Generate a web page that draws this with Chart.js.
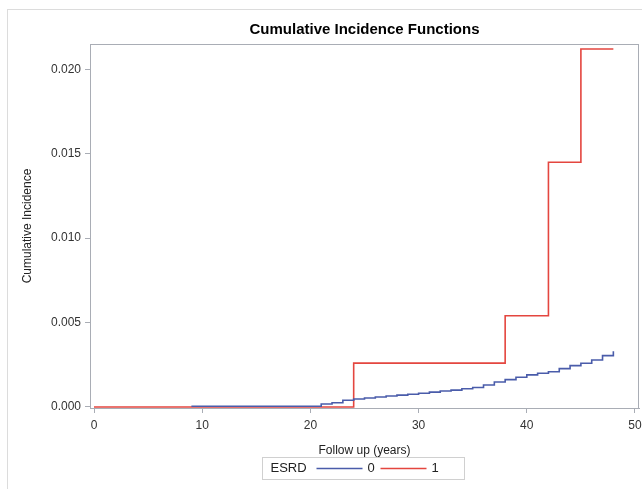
<!DOCTYPE html>
<html>
<head>
<meta charset="utf-8">
<script src="https://cdn.jsdelivr.net/npm/chart.js@4"></script>
<style>
  body { margin: 0; background: #fff; }
  canvas { display: block; }
</style>
</head>
<body>
<canvas id="cif" width="642" height="489"></canvas>
<script>
// step points: value holds from this time onward
const esrd0Time = [9, 21, 22, 23, 24, 25, 26, 27, 28, 29, 30, 31, 32, 33, 34, 35, 36, 37, 38, 39, 40, 41, 42, 43, 44, 45, 46, 47, 48, 48];
const esrd0Cif = [0.00004, 0.00018, 0.00025, 0.0004, 0.00047, 0.00053, 0.00059, 0.00065, 0.0007, 0.00075, 0.00081, 0.00088, 0.00095, 0.001, 0.00108, 0.00115, 0.0013, 0.00148, 0.00162, 0.00176, 0.0019, 0.002, 0.00209, 0.00227, 0.00245, 0.00259, 0.00278, 0.00304, 0.00304, 0.0033];

const esrd1Time = [0, 24, 38, 42, 45, 48];
const esrd1Cif = [0, 0.0026, 0.0054, 0.0145, 0.0212, 0.0212];

const groupLabels = ["0", "1"];
const xTicks = [0, 10, 20, 30, 40, 50];
const yTicks = [0, 0.005, 0.010, 0.015, 0.020];

const toPoints = (xs, ys) => xs.map((x, i) => ({ x, y: ys[i] }));

const FONT = "'Liberation Sans', Arial, sans-serif";

// plot frame, outer border and the ESRD legend
const framePlugin = {
  id: "frame",
  beforeDraw(chart) {
    const ctx = chart.ctx;
    ctx.save();
    ctx.strokeStyle = "#dcdcdc";
    ctx.lineWidth = 1;
    ctx.strokeRect(7.5, 9.5, 800, 600);
    ctx.restore();
  },
  afterDraw(chart) {
    const ctx = chart.ctx;
    const a = chart.chartArea;
    ctx.save();
    ctx.strokeStyle = "#a9adb5";
    ctx.lineWidth = 1;
    ctx.strokeRect(Math.round(a.left) + 0.5, Math.round(a.top) + 0.5,
      Math.round(a.right - a.left) - 1, Math.round(a.bottom - a.top));

    // legend
    const w = 202, h = 22;
    const cx = (a.left + a.right) / 2 - 2;
    const x0 = Math.round(cx - w / 2) + 0.5, y0 = 457.5;
    ctx.strokeStyle = "#d0d0d0";
    ctx.strokeRect(x0, y0, w, h);
    ctx.fillStyle = "#222";
    ctx.font = "13px " + FONT;
    ctx.textBaseline = "middle";
    ctx.textAlign = "left";
    const ym = y0 + h / 2;
    ctx.fillText("ESRD", x0 + 8, ym);
    let x = x0 + 54;
    chart.data.datasets.forEach(ds => {
      ctx.strokeStyle = ds.borderColor;
      ctx.lineWidth = 1.5;
      ctx.beginPath();
      ctx.moveTo(x, ym);
      ctx.lineTo(x + 46, ym);
      ctx.stroke();
      ctx.fillText(ds.label, x + 51, ym);
      x += 64;
    });
    ctx.restore();
  }
};

new Chart(document.getElementById("cif"), {
  type: "line",
  data: {
    datasets: [
      {
        label: groupLabels[0],
        data: toPoints(esrd0Time, esrd0Cif),
        borderColor: "#4a5caa",
        borderWidth: 1.6,
        stepped: true,
        pointRadius: 0,
        fill: false
      },
      {
        label: groupLabels[1],
        data: toPoints(esrd1Time, esrd1Cif),
        borderColor: "#e4463f",
        borderWidth: 1.6,
        stepped: true,
        pointRadius: 0,
        fill: false
      }
    ]
  },
  options: {
    responsive: false,
    animation: false,
    layout: { padding: { left: 18, right: 3, top: 0, bottom: 31 } },
    plugins: {
      legend: { display: false },
      tooltip: { enabled: false },
      title: {
        display: true,
        fullSize: false,
        text: "Cumulative Incidence Functions",
        color: "#000",
        font: { family: FONT, size: 15, weight: "bold" },
        padding: { top: 21, bottom: 5 }
      }
    },
    scales: {
      x: {
        type: "linear",
        min: -0.37,
        max: 50.37,
        afterBuildTicks: s => { s.ticks = xTicks.map(v => ({ value: v })); },
        afterFit: s => { s.height = 50; s.paddingLeft = 0; s.paddingRight = 0; },
        grid: { drawOnChartArea: false, drawTicks: true, tickLength: 5, color: "#a9adb5" },
        border: { color: "#a9adb5" },
        ticks: { color: "#333", padding: 5, font: { family: FONT, size: 12 }, maxRotation: 0 },
        title: {
          display: true,
          text: "Follow up (years)",
          color: "#222",
          font: { family: FONT, size: 12 },
          padding: { top: 2, bottom: 0 }
        }
      },
      y: {
        type: "linear",
        min: -0.00006,
        max: 0.0215,
        afterBuildTicks: s => { s.ticks = yTicks.map(v => ({ value: v })); },
        afterFit: s => { s.width = 72; },
        grid: { drawOnChartArea: false, drawTicks: true, tickLength: 5, color: "#a9adb5" },
        border: { color: "#a9adb5" },
        ticks: {
          color: "#333",
          padding: 4,
          font: { family: FONT, size: 12 },
          callback: v => v.toFixed(3)
        },
        title: {
          display: true,
          text: "Cumulative Incidence",
          color: "#222",
          font: { family: FONT, size: 12 },
          padding: { top: 2, bottom: 2 }
        }
      }
    }
  },
  plugins: [framePlugin]
});
</script>
</body>
</html>
